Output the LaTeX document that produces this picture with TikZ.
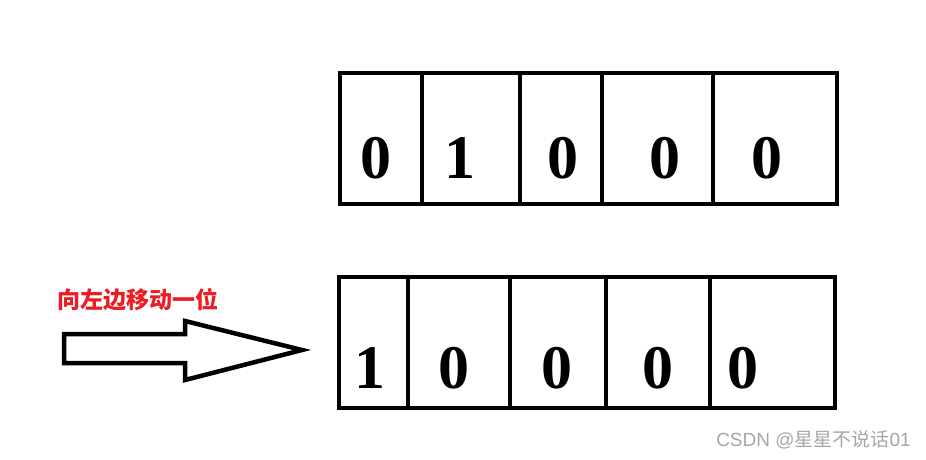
\documentclass[tikz,border=0pt]{standalone}
\usepackage{fontspec}
\setmainfont{Liberation Serif}
\newfontfamily\cjk{Noto Sans CJK SC}
\newfontfamily\wmfont{Liberation Sans}
\usetikzlibrary{positioning}
\definecolor{labelred}{HTML}{ED1C24}
\definecolor{markgray}{HTML}{A6A6A6}

\begin{document}
\begin{tikzpicture}[x=1pt, y=-1pt,
  cell/.style = {draw, line width=4.5pt, rectangle, inner sep=0pt, minimum height=131pt},
  digit/.style = {inner sep=0pt, font=\fontsize{62}{62}\selectfont\bfseries},
  shiftarrow/.style = {draw, line width=4.5pt, line join=miter}]
\useasboundingbox (0,0) rectangle (926,459);

% top register
\foreach \a/\b [count=\i] in {340/422, 422/520, 520/602, 602/713, 713/837}
  \node[cell, minimum width={(\b-\a)*1pt}] (top\i) at ({(\a+\b)/2},138.5) {};
\foreach \x/\d [count=\i] in {376/0, 460/1, 563/0, 665/0, 767/0}
  \node[digit] (topd\i) at (\x,158) {\d};

% bottom register
\foreach \a/\b [count=\i] in {339/408, 408/510, 510/606, 606/710, 710/835}
  \node[cell, minimum width={(\b-\a)*1pt}] (bot\i) at ({(\a+\b)/2},342.5) {};
\foreach \x/\d [count=\i] in {370/1, 454/0, 557/0, 658/0, 743/0}
  \node[digit] (botd\i) at (\x,368) {\d};

% shift arrow and label
\draw[shiftarrow] (64,334) -- (185,334) -- (185,321) -- (302,350)
  -- (185,380) -- (185,363) -- (64,363) -- cycle;
\node[anchor=west, inner sep=0pt, text=labelred, font=\cjk\bfseries\fontsize{23}{23}\selectfont]
  (label) at (57,300) {向左边移动一位};

% watermark
\node[anchor=east, inner sep=0pt, text=markgray, font=\wmfont\fontsize{19}{19}\selectfont]
  (mark) at (911,440) {CSDN @{\cjk 星星不说话}01};
\end{tikzpicture}
\end{document}
